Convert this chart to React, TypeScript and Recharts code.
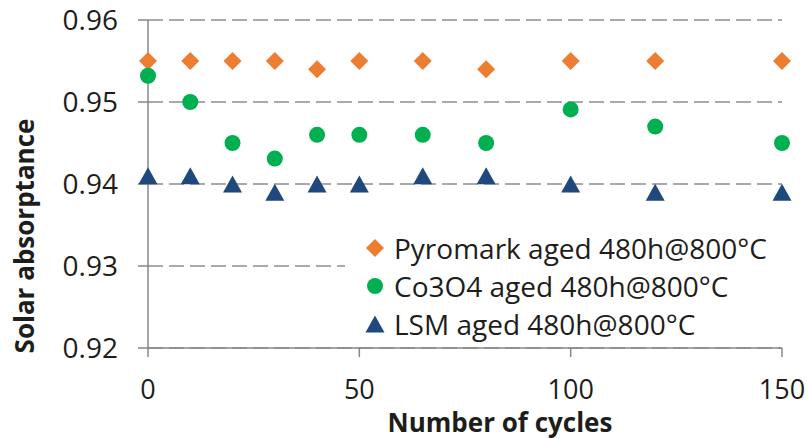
import React from "react";
import {
  ScatterChart,
  Scatter,
  XAxis,
  YAxis,
  CartesianGrid,
} from "recharts";

const cycles = [0, 10, 20, 30, 40, 50, 65, 80, 100, 120, 150];
const pyromark = [0.955, 0.955, 0.955, 0.955, 0.954, 0.955, 0.955, 0.954, 0.955, 0.955, 0.955];
const co3o4 = [0.9532, 0.95, 0.945, 0.9431, 0.946, 0.946, 0.946, 0.945, 0.9491, 0.947, 0.945];
const lsm = [0.941, 0.941, 0.94, 0.939, 0.94, 0.94, 0.941, 0.941, 0.94, 0.939, 0.939];

const xTicks = [0, 50, 100, 150];
const yTicks = [0.92, 0.93, 0.94, 0.95, 0.96];

const FONT = "'Open Sans', sans-serif";
const TEXT = "#1d1d1b";
const AXIS = "#878787";
const GRID = "#a7aab0";

const ORANGE = "#ed7d31";
const GREEN = "#00b050";
const NAVY = "#1f497d";

const toPoints = (ys: number[]) => cycles.map((x, i) => ({ x, y: ys[i] }));

function Diamond({ cx, cy, fill }: any) {
  const h = 9;
  return (
    <polygon
      points={`${cx},${cy - h} ${cx + h},${cy} ${cx},${cy + h} ${cx - h},${cy}`}
      fill={fill}
    />
  );
}

function Dot({ cx, cy, fill }: any) {
  return <circle cx={cx} cy={cy} r={8} fill={fill} />;
}

function Triangle({ cx, cy, fill }: any) {
  const w = 9.5;
  const h = 8.5;
  return (
    <polygon
      points={`${cx},${cy - h} ${cx + w},${cy + h} ${cx - w},${cy + h}`}
      fill={fill}
    />
  );
}

const series = [
  { name: "Pyromark aged 480h@800°C", data: toPoints(pyromark), color: ORANGE, Shape: Diamond },
  { name: "Co3O4 aged 480h@800°C", data: toPoints(co3o4), color: GREEN, Shape: Dot },
  { name: "LSM aged 480h@800°C", data: toPoints(lsm), color: NAVY, Shape: Triangle },
];

// legend is an overlay box (white fill hides the 0.93 gridline behind it)
function LegendBox() {
  return (
    <div
      style={{
        position: "absolute",
        left: 345,
        top: 229,
        width: 437,
        background: "#fff",
        fontFamily: FONT,
        fontSize: 28,
        color: TEXT,
      }}
    >
      {series.map((s) => (
        <div
          key={s.name}
          style={{ display: "flex", alignItems: "center", height: 38, whiteSpace: "nowrap" }}
        >
          <svg width={22} height={22} style={{ marginLeft: 19, marginRight: 8 }}>
            <s.Shape cx={11} cy={11} fill={s.color} />
          </svg>
          <span>{s.name}</span>
        </div>
      ))}
    </div>
  );
}

function XTitle(props: any) {
  const vb = props.viewBox;
  return (
    <text
      x={vb.x + vb.width / 2 + 35}
      y={vb.y + 84}
      textAnchor="middle"
      fontFamily={FONT}
      fontWeight={700}
      fontSize={26}
      fill={TEXT}
    >
      Number of cycles
    </text>
  );
}

function YTitle(props: any) {
  const vb = props.viewBox;
  const x = 24;
  const y = vb.y + vb.height / 2 + 52;
  return (
    <text
      x={x}
      y={y}
      transform={`rotate(-90, ${x}, ${y})`}
      textAnchor="middle"
      dominantBaseline="central"
      fontFamily={FONT}
      fontWeight={700}
      fontSize={26}
      fill={TEXT}
    >
      Solar absorptance
    </text>
  );
}

export default function App() {
  return (
    <div style={{ position: "absolute", left: 0, top: 0, width: 807, height: 439, background: "#fff" }}>
      <ScatterChart
        width={807}
        height={439}
        margin={{ top: 20, right: 25, bottom: 0, left: 0 }}
      >
        <CartesianGrid
          horizontal
          vertical={false}
          stroke={GRID}
          strokeWidth={2}
          strokeDasharray="15 6"
        />
        <XAxis
          type="number"
          dataKey="x"
          domain={[0, 150]}
          ticks={xTicks}
          height={91}
          tickSize={9}
          tickMargin={23}
          stroke={AXIS}
          strokeWidth={1.5}
          tick={{ fontFamily: FONT, fontSize: 27, fill: TEXT }}
          label={<XTitle />}
        />
        <YAxis
          type="number"
          dataKey="y"
          domain={[0.92, 0.96]}
          ticks={yTicks}
          width={148}
          tickSize={10}
          tickMargin={20}
          stroke={AXIS}
          strokeWidth={1.5}
          tickFormatter={(v: number) => v.toFixed(2)}
          tick={{ fontFamily: FONT, fontSize: 28, fill: TEXT }}
          label={<YTitle />}
        />
        {series.map((s) => (
          <Scatter
            key={s.name}
            name={s.name}
            data={s.data}
            fill={s.color}
            shape={(p: any) => <s.Shape cx={p.cx} cy={p.cy} fill={s.color} />}
            isAnimationActive={false}
          />
        ))}
      </ScatterChart>
      <LegendBox />
    </div>
  );
}
